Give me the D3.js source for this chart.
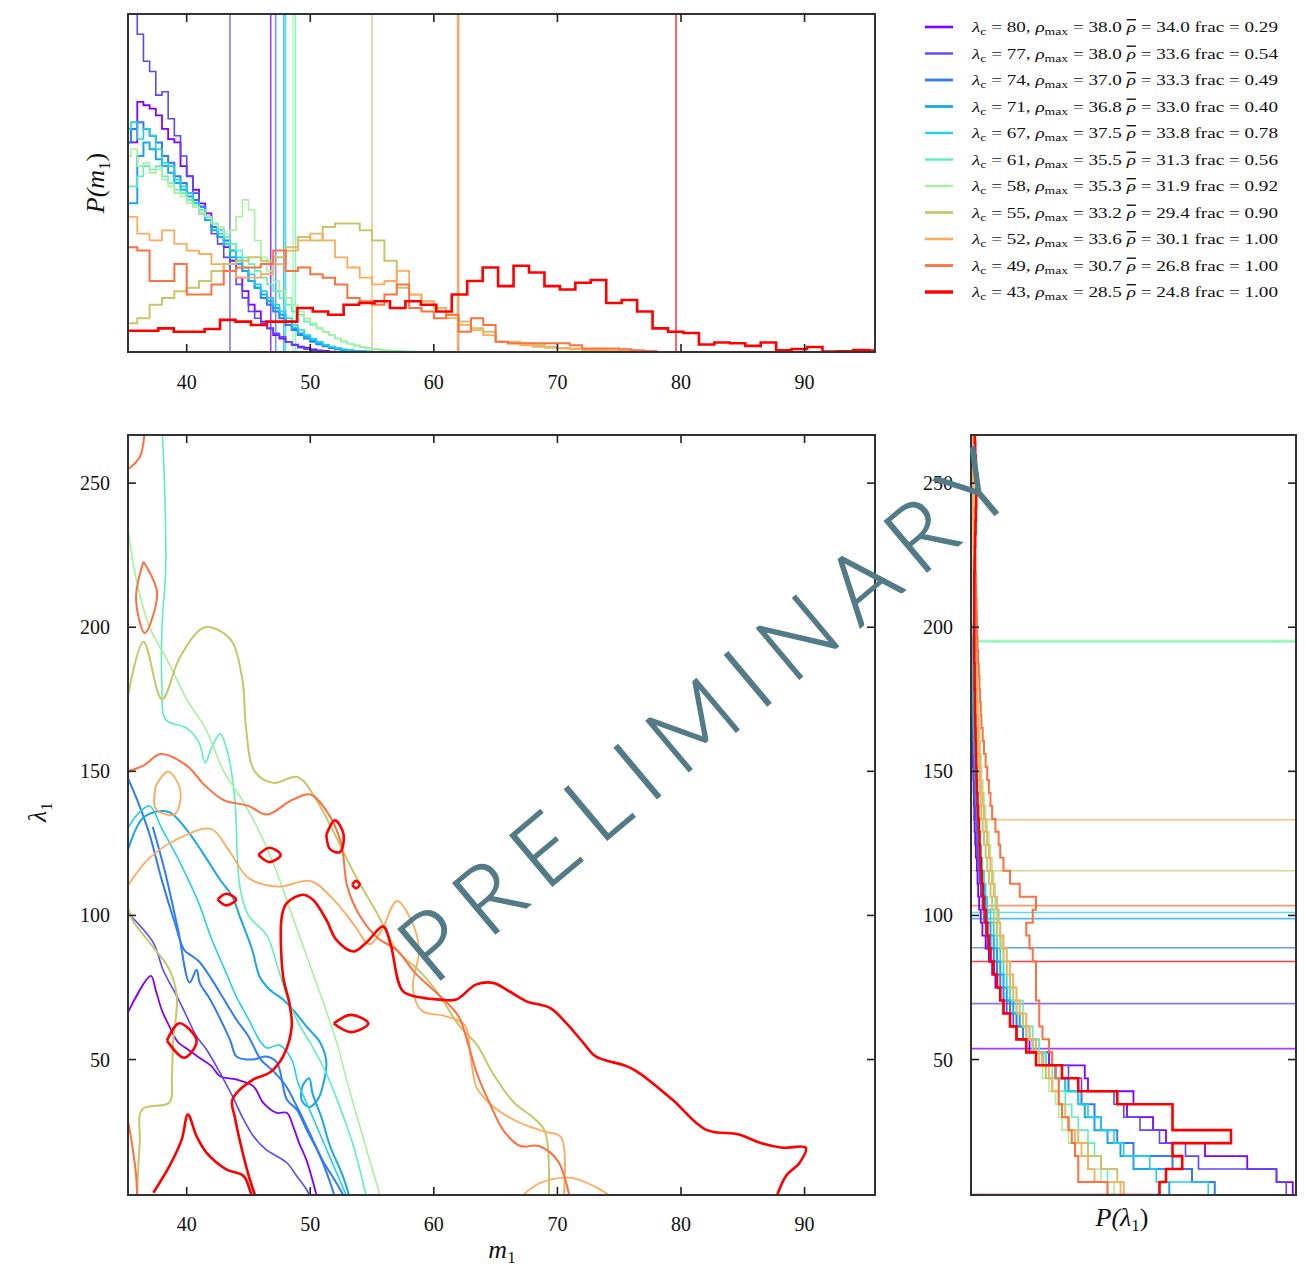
<!DOCTYPE html>
<html>
<head>
<meta charset="utf-8">
<script src="https://cdnjs.cloudflare.com/ajax/libs/d3/7.8.5/d3.min.js"></script>
<style>
body { margin: 0; background: #fff; }
text { font-family: "Liberation Serif", "DejaVu Serif", serif; fill: #111; }
</style>
</head>
<body>
<svg id="chart" width="1306" height="1273"></svg>
<script>
/* Legend values, one entry per run */
var lambdaC  = [80, 77, 74, 71, 67, 61, 58, 55, 52, 49, 43];
var rhoMax   = ["38.0", "38.0", "37.0", "36.8", "37.5", "35.5", "35.3", "33.2", "33.6", "30.7", "28.5"];
var rhoBar   = ["34.0", "33.6", "33.3", "33.0", "33.8", "31.3", "31.9", "29.4", "30.1", "26.8", "24.8"];
var fracVals = ["0.29", "0.54", "0.49", "0.40", "0.78", "0.56", "0.92", "0.90", "1.00", "1.00", "1.00"];

/* injected (true) values marked by the straight lines */
var mTrue   = [46.8, 43.5, 47.2, 47.85, 48.0, 48.8, 48.6, 61.9, 55.0, 62.0, 79.6];
var lamTrue = [53.8, 69.4, 88.8, 98.9, 101.0, 195.0, 195.5, 115.5, 133.2, 103.4, 84.0];

/* Ticks */
var mTicks   = [40, 50, 60, 70, 80, 90];
var lamTicks = [50, 100, 150, 200, 250];

/* m1 histograms: first bin edge, bin width, heights (relative density) */
var m1Start = [35, 35, 35, 35, 35, 35, 35, 35, 35, 35, 35.2];
var m1Width = [0.5, 0.5, 0.5, 0.5, 0.5, 0.5, 0.5, 1, 1, 1, 1.25];
var m1Hist_80 = [62, 62, 74, 73, 72, 70, 66, 63, 62, 55, 52, 48, 44, 41, 37, 34, 31, 27, 22, 18, 14, 12, 9, 7, 5, 4, 3, 2.2, 1.6, 1.2, 0.8, 0.5, 0.3, 0.1, 0];
var m1Hist_77 = [104, 100, 94, 86, 83, 76, 77, 69, 64, 58, 52, 47, 43, 39, 35, 32, 28, 24, 20, 16, 12, 10, 8.5, 7, 5.5, 4.5, 3, 2, 1.3, 0.8, 0.4, 0.2, 0];
var m1Hist_74 = [62, 66, 68, 66, 64, 62, 58, 56, 52, 50, 47, 45, 43, 40, 37, 36, 33, 30, 27, 24, 21, 19, 16, 14, 12, 10, 8, 6.5, 5, 4, 3, 2.3, 1.7, 1.2, 0.8, 0.5, 0.3, 0.2, 0.1, 0];
var m1Hist_71 = [44, 44, 58, 62, 60, 57, 55, 53, 50, 48, 46, 44, 41, 39, 36, 34, 32, 28, 26, 24, 21, 19, 17, 15, 13, 11, 9, 7, 5.5, 4.5, 3.5, 2.6, 2, 1.5, 1, 0.7, 0.5, 0.3, 0.2, 0.1, 0];
var m1Hist_67 = [66, 68, 63, 66, 64, 60, 56, 55, 51, 49, 47, 44, 42, 40, 38, 35, 32, 30, 28, 25, 23, 20, 18, 16, 14, 12, 10, 8, 6.5, 5, 4, 3, 2.2, 1.6, 1.2, 0.8, 0.5, 0.3, 0.2, 0.1, 0];
var m1Hist_61 = [49, 49, 52, 55, 54, 55, 52, 50, 48, 47, 45, 43, 42, 40, 38, 36, 34, 32, 30, 28, 26, 24, 22, 20, 18, 16, 14, 12, 11, 9, 8, 7, 6, 5, 4, 3.2, 2.5, 2, 1.5, 1.2, 0.9, 0.7, 0.5, 0.4, 0.3, 0.2, 0.1, 0];
var m1Hist_58 = [58, 60, 55, 56, 53, 54, 51, 49, 47, 46, 44, 43, 41, 40, 38, 37, 35, 36, 40, 45, 42, 33, 28, 24, 21, 18, 16, 14, 12, 10, 8.5, 7, 6, 5, 4, 3, 2.4, 1.8, 1.4, 1, 0.8, 0.6, 0.4, 0.3, 0.2, 0.1, 0];
var m1Hist_55 = [8.5, 10, 14, 16, 18, 19, 21, 24, 26, 27, 28, 27, 28, 31, 34, 33, 37, 38, 38, 36, 33, 27, 19, 17, 15, 13, 11, 9, 7, 6, 3, 3, 2.5, 2, 1.5, 1.2, 1, 0.5, 0.3, 0];
var m1Hist_52 = [40, 35, 33, 36, 32, 30, 29, 26, 24, 22, 22, 23, 26, 30, 33, 35, 33, 28, 25, 22, 20, 21, 24, 17, 15, 13, 10, 8, 6.5, 5, 3, 2.5, 2, 1.5, 1.2, 1, 0.8, 0.8, 0.6, 0.5, 0.4, 0.3, 0.2, 0];
var m1Hist_49 = [31, 30, 21, 21, 26, 17, 17, 20, 24, 25, 25, 26, 30, 24, 25, 23, 22, 20, 16, 15, 14, 17, 20, 13, 12, 10, 11, 6, 10, 8, 3, 2.6, 2.6, 2.6, 2.6, 2.6, 2, 1, 1, 1, 0.8, 0.5, 0.3, 0];
var m1Hist_43 = [6.3, 6.3, 7, 6, 6, 6.8, 9.5, 9, 8, 9, 9, 13, 12, 11, 14, 14.5, 15, 13, 15, 14, 12, 17, 21, 25, 19.5, 25.5, 23.5, 19.5, 18.5, 20.5, 21.3, 14.5, 15.4, 12, 7, 6, 5.6, 2.2, 2.8, 2.6, 1.8, 2.8, 0.5, 0.9, 1.5, 0.1, 0.2, 0.6, 0.4];

/* lambda1 histograms: bins of 4.5 starting at 3, relative density */
var lamStart = 3, lamWidth = 4.5;
var lamHist_80 = [99, 94, 85, 72, 60, 56, 48, 50, 36, 35, 24, 18, 14, 12, 10, 9, 7.5, 6.5, 5.5, 4.5, 3.5, 3, 2.5, 2.2, 2, 1.8, 1.5, 1.3, 1.1, 1, 0.9, 0.8, 0.7, 0.6, 0.5, 0.4, 0.3, 0.2, 0.1];
var lamHist_77 = [97, 94, 70, 66, 58, 52, 47, 44, 34, 30, 25, 20, 16, 13, 11, 9, 8, 7, 6, 5, 4.5, 4, 3.5, 3, 2.6, 2.2, 2, 1.8, 1.6, 1.4, 1.2, 1, 0.9, 0.8, 0.7, 0.6, 0.5, 0.4, 0.3, 0.2, 0.1];
var lamHist_74 = [75, 68, 62, 50, 45, 40, 38, 34, 30, 26, 22, 19, 16, 14, 12, 10, 9, 8, 7, 6, 5, 4.5, 4, 3.5, 3, 2.8, 2.5, 2.2, 2, 1.8, 1.6, 1.4, 1.3, 1.2, 1, 0.9, 0.8, 0.7, 0.6, 0.5, 0.4, 0.3, 0.2, 0.1];
var lamHist_71 = [61, 60, 50, 46, 42, 38, 35, 33, 29, 26, 23, 20, 17, 15, 13, 11, 10, 9, 8, 7, 6, 5, 4.5, 4, 3.5, 3, 2.7, 2.4, 2.1, 1.9, 1.7, 1.5, 1.3, 1.2, 1, 0.9, 0.8, 0.7, 0.6, 0.5, 0.4, 0.3, 0.2];
var lamHist_67 = [73, 57, 55, 47, 44, 40, 36, 33, 29, 26, 23, 21, 18, 16, 14, 12, 11, 10, 9, 8, 7, 6, 5, 4.5, 4, 3.5, 3, 2.7, 2.4, 2.1, 1.9, 1.7, 1.5, 1.3, 1.1, 1, 0.9, 0.8, 0.7, 0.6, 0.5, 0.4, 0.3, 0.2];
var lamHist_61 = [42, 42, 40, 38, 36, 33, 31, 29, 27, 25, 23, 21, 19, 17, 16, 14, 13, 12, 11, 10, 9, 8, 7.5, 7, 6.5, 6, 5.5, 5, 4.5, 4, 3.8, 3.5, 3.2, 3, 2.8, 2.6, 2.4, 2.2, 2, 1.9, 1.8, 1.7, 1.6, 1.5, 1.4, 1.3, 1.2, 1.1, 1, 1, 0.9, 0.9, 0.8, 0.8, 0.7, 0.7, 0.6, 0.6, 0.5];
var lamHist_58 = [44, 40, 36, 32, 30, 28, 27, 26, 24, 22, 20, 19, 17, 16, 15, 13, 12, 11, 10, 9.5, 9, 8.5, 8, 7.5, 7, 6.5, 6, 5.5, 5, 4.5, 4, 3.6, 3.2, 3, 2.8, 2.6, 2.4, 2.2, 2, 1.9, 1.8, 1.7, 1.6, 1.5, 1.4, 1.3, 1.2, 1.1, 1, 1, 0.9, 0.9, 0.8, 0.8, 0.7, 0.7, 0.6, 0.6, 0.5];
var lamHist_55 = [47, 45, 40, 36, 33, 30, 29, 27, 25, 23, 21, 19, 17, 16, 14, 13, 12, 11, 10, 9, 8, 7, 6.5, 6, 5.5, 5, 4.5, 4, 3.6, 3.2, 3, 2.8, 2.6, 2.4, 2.2, 2, 1.8, 1.7, 1.6, 1.5, 1.4, 1.3, 1.2, 1.1, 1, 1, 0.9, 0.9, 0.8, 0.8, 0.7, 0.7, 0.6, 0.6, 0.5, 0.5, 0.4, 0.4, 0.3];
var lamHist_52 = [46, 38, 36, 34, 32, 30, 28, 27, 25, 24, 22, 20, 18, 17, 15, 14, 13, 12, 11, 10, 9, 8.5, 8, 7, 6.5, 6, 5.5, 5, 4.5, 4, 3.6, 3.2, 3, 2.8, 2.6, 2.4, 2.2, 2, 1.9, 1.8, 1.7, 1.6, 1.5, 1.4, 1.3, 1.2, 1.1, 1, 1, 0.9, 0.9, 0.8, 0.8, 0.7, 0.7, 0.6, 0.6, 0.5, 0.5];
var lamHist_49 = [42, 33, 33, 32, 31, 30, 28, 27, 27, 26, 25, 24, 22, 21, 21, 20, 20, 20, 19, 18, 17, 19, 20, 15, 12, 10, 9, 8.5, 7.5, 6.5, 6, 5.5, 5, 4.5, 4, 3.6, 3.2, 3, 2.8, 2.6, 2.4, 2.2, 2, 1.9, 1.8, 1.7, 1.6, 1.5, 1.4, 1.3, 1.2, 1.3, 1.4, 1.5, 1.5, 1.4, 1.3, 1.2, 1.1];
var lamHist_43 = [58, 60, 65, 62, 80, 62, 62, 45, 33, 28, 20, 17, 14, 12, 10, 9, 8, 7, 6, 5.5, 5, 4.5, 4, 3.6, 3.3, 3, 2.8, 2.6, 2.4, 2.2, 2, 1.8, 1.7, 1.6, 1.5, 1.4, 1.3, 1.2, 1.2, 1.1, 1.1, 1, 1, 1, 1, 1, 1, 1, 1.1, 1.2, 1.3, 1.4, 1.5, 1.6, 1.8, 1.6, 1.5, 1.3, 1.2];

/* 2D credible contours, [m1, lambda1] */
var contour_80 = [
  [[35.2,66],[37.1,79],[37.5,74],[38.0,67],[38.6,61.5],[39.3,56],[40.1,53.5],[40.9,51],[42.0,47.7],[42.7,44.2],[44.0,43.1],[45.4,40.7],[46.2,35],[47.3,31.5],[48.1,31.5],[48.6,27],[49.1,21],[49.7,15],[50.5,3]]
];
var contour_77 = [
  [[35.2,101],[37.3,90.5],[38.1,81],[39.2,72],[40.0,65],[40.8,58],[41.6,53.5],[42.7,45.4],[43.7,37.3],[44.6,29.2],[45.4,23.4],[46.4,18.8],[48.1,14.2],[48.9,9.6],[49.7,4.9],[50.0,2]]
];
var contour_74 = [
  [[35.2,148],[36,140],[37,128],[38,112],[39,98],[39.8,88],[40.4,86],[41,84],[42,78],[43,71],[44,64],[45,58],[46,50],[47,46],[48,41],[49,33],[50,24],[51,15],[52,8],[52.8,2]],
  [[37.25,130.8],[38.2,115.9],[39.3,95.1],[40.24,76.7],[40.8,81.2],[41.05,76.7],[41.9,70.8],[43.5,56.9],[44.05,51],[45.3,50],[46.5,51],[47.3,49],[48.1,36.1],[48.9,32.7],[49.7,25.7],[50.8,16.4],[51.8,4.9],[52,2]]
];
var contour_71 = [
  [[35.2,122],[36.5,134],[38.5,136],[40,129.7],[41.3,121.7],[42.7,112.4],[43.7,106.5],[44.3,99.6],[45.3,88.1],[45.9,78.8],[46.7,74.3],[47.8,70.8],[48.6,67.3],[49.7,61.4],[50.8,55.9],[51.3,49],[51.0,40.6],[50.6,36.1],[49.9,33.5],[49.3,36],[49.4,41],[49.9,43.5],[50.2,38],[50.9,30],[51.6,20],[52.6,10],[53.2,2]]
];
var contour_67 = [
  [[35.2,130],[36,135],[37,138],[38,130],[39.5,118],[41,104],[42,92],[43,82],[44,72],[45,64],[46,56],[46.5,54],[47.5,55],[48.5,50],[49,42],[50,32],[51,22],[52,12],[53,2]]
];
var contour_61 = [
  [[38.0,270],[38.2,250],[38.3,220],[38.0,200],[38.0,180],[38.3,168],[40,165],[41,160],[41.5,153],[42,158],[42.7,163],[43.4,155],[43.9,140],[44.3,110],[45,100],[46.5,93],[47.3,83],[48.1,72],[49,63],[50.1,55],[51.1,47],[52,38],[52.7,30],[53.5,20],[54.5,3]]
];
var contour_58 = [
  [[35.2,235],[36,215],[37,200],[38.5,188],[40,175],[41.5,165],[43,150],[44.5,140],[46,128],[47.2,116],[48.2,104],[49.2,92],[50.2,80],[51.2,68],[52.2,55],[53,42],[53.8,30],[54.6,18],[55.3,8],[55.7,2]]
];
var contour_55 = [
  [[35.2,175],[36.5,195],[38,175],[39.5,190],[41.5,200],[43.5,196],[44.5,182],[44.8,165],[45.5,150],[47,146],[49,148],[50.5,140],[52,128],[53.5,115],[55.5,100],[57,88],[59,80],[60.5,72],[62,62],[63.5,55],[64.8,45],[66.5,35],[68,30],[69,25],[69.3,2]],
  [[35.2,104],[35.6,98.5],[37.0,90.6],[38.6,81.2],[39.2,71.8],[38.9,55.9],[38.8,44.1],[38.6,35.1],[36.4,32.7],[36.2,21.2],[36.0,4.9],[36,2]]
];
var contour_52 = [
  [[37.5,145],[38.5,150],[39.5,143],[39,135],[37.5,137],[37.5,145]],
  [[35.2,110],[37,120],[40,128],[42,130],[43.5,122],[45,113],[47.5,110],[50,112],[52,105],[53.5,97],[54.8,90],[55.8,95],[57,105],[58.2,98],[58.8,88],[58.3,75],[59,67],[61,65],[62.5,62],[63,50],[63.5,40],[65,33],[67,28],[69,25],[70.3,23],[70.5,2]],
  [[67,2],[68.5,7],[71,9],[73,6],[74.5,2]]
];
var contour_49 = [
  [[36.6,268],[36.2,259],[35.3,255]],
  [[36.5,222.7],[37.6,212],[36.6,198],[35.9,210],[36.5,222.7]],
  [[35.2,150],[36.5,152],[37.9,156],[40,152],[41.5,145],[43,140],[45,138],[46.5,135],[48.5,140],[50,142],[51.5,135],[52.5,125],[53,110],[54,100],[55.5,92],[57,88],[58.5,80],[60.5,72],[62,65],[62.8,55],[63.5,45],[64.5,35],[65.7,25],[67,20],[68.5,20],[70,15],[71,2]],
  [[35.2,30],[35.6,20],[35.9,10],[36.0,2]]
];
var contour_43 = [
  [[37.3,3.8],[38.6,13],[39.6,22.3],[40.1,30.9],[40.8,23.4],[41.6,17.7],[43.2,11.9],[44.6,9.6],[45.1,4.9],[45.3,2]],
  [[45.6,2],[45.0,10],[44.4,20],[43.9,30],[43.7,36.1],[45.4,43.1],[46.7,45.4],[47.8,51.1],[48.5,61.5],[48.3,69.7],[47.8,78.9],[47.7,99.7],[48.1,104.3],[49.4,107.2],[50.2,105.5],[51.3,98.5],[52.1,91.6],[53.5,87.5],[54.5,90.4],[55.9,96.2],[56.5,90],[57.5,73.7],[59,71.5],[60.5,70.8],[61.8,70.8],[63.4,76],[64.8,76.6],[66.1,73.7],[67.5,70.2],[69.4,67.9],[70.7,62.7],[72.1,55.8],[73.1,51.1],[75.6,47.7],[76.6,45.4],[79.3,36.1],[82.0,25.7],[84.7,24],[86.4,21.1],[88.2,19.4],[90.1,19.4],[89.6,14.2],[88.5,9.6],[87.7,2]],
  [[51.3,128],[52.0,133],[52.7,128],[52.4,122],[51.6,123],[51.3,128]],
  [[45.8,121],[46.7,123.5],[47.6,121],[46.7,118.5],[45.8,121]],
  [[42.5,105.5],[43.2,107.5],[44.0,105.5],[43.2,103.5],[42.5,105.5]],
  [[53.4,110.7],[53.7,112],[54.0,110.7],[53.7,109.4],[53.4,110.7]],
  [[51.9,62.5],[53.3,65.5],[54.7,62.5],[53.3,59.5],[51.9,62.5]],
  [[38.4,56.6],[39.4,62.6],[40.8,56.6],[39.8,50.6],[38.4,56.6]]
];

var seriesColors = ["#8000ff", "#5a48fc", "#2f7cf6", "#1aa6ec", "#22d2e2", "#5cf0bc", "#a6f29c", "#c8c66a", "#ffaa5c", "#ff7040", "#ff0000"];
var seriesWidths = [1.8, 1.6, 2, 2, 1.6, 1.6, 1.6, 2, 1.8, 2, 2.6];

var m1Hists  = [m1Hist_80, m1Hist_77, m1Hist_74, m1Hist_71, m1Hist_67, m1Hist_61, m1Hist_58, m1Hist_55, m1Hist_52, m1Hist_49, m1Hist_43];
var lamHists = [lamHist_80, lamHist_77, lamHist_74, lamHist_71, lamHist_67, lamHist_61, lamHist_58, lamHist_55, lamHist_52, lamHist_49, lamHist_43];
var contours = [contour_80, contour_77, contour_74, contour_71, contour_67, contour_61, contour_58, contour_55, contour_52, contour_49, contour_43];

/* Layout */
var MAIN = {left: 128, right: 875, top: 435, bottom: 1195},
    TOP  = {top: 14, bottom: 352},
    SIDE = {left: 971, right: 1296},
    TICK = 8;

var svg = d3.select("#chart");

var xM   = d3.scaleLinear().domain([35.25, 95.7]).range([MAIN.left, MAIN.right]),
    yLam = d3.scaleLinear().domain([3, 266.7]).range([MAIN.bottom, MAIN.top]),
    yTop = d3.scaleLinear().domain([0, 100]).range([TOP.bottom, TOP.top]),
    xSide = d3.scaleLinear().domain([0, 100]).range([SIDE.left, SIDE.right]);

var defs = svg.append("defs");
[["clipTop", MAIN.left, TOP.top, MAIN.right - MAIN.left, TOP.bottom - TOP.top],
 ["clipMain", MAIN.left, MAIN.top, MAIN.right - MAIN.left, MAIN.bottom - MAIN.top],
 ["clipSide", SIDE.left, MAIN.top, SIDE.right - SIDE.left, MAIN.bottom - MAIN.top]].forEach(function(c) {
	defs.append("clipPath").attr("id", c[0])
		.append("rect").attr("x", c[1]).attr("y", c[2]).attr("width", c[3]).attr("height", c[4]);
});

/* ---- top panel: P(m1) ---- */
var gTop = svg.append("g").attr("clip-path", "url(#clipTop)");

gTop.selectAll("line.truth")
	.data(mTrue)
	.enter().append("line")
	.attr("x1", function(d) { return xM(d); })
	.attr("x2", function(d) { return xM(d); })
	.attr("y1", TOP.top).attr("y2", TOP.bottom)
	.attr("stroke", function(d, i) { return seriesColors[i]; })
	.attr("stroke-opacity", 0.75)
	.attr("stroke-width", 1.6);

var topLine = d3.line().x(function(d) { return xM(d[0]); }).y(function(d) { return yTop(d[1]); });

gTop.selectAll("path.hist")
	.data(m1Hists)
	.enter().append("path")
	.attr("fill", "none")
	.attr("stroke", function(d, i) { return seriesColors[i]; })
	.attr("stroke-width", function(d, i) { return seriesWidths[i]; })
	.attr("d", function(h, i) {
		var s = m1Start[i], w = m1Width[i], pts = [[s, 0]];
		h.forEach(function(v, k) { pts.push([s + k * w, v], [s + (k + 1) * w, v]); });
		pts.push([s + h.length * w, 0]);
		return topLine(pts);
	});

/* ---- side panel: P(lambda1) ---- */
var gSide = svg.append("g").attr("clip-path", "url(#clipSide)");

gSide.selectAll("line.truth")
	.data(lamTrue)
	.enter().append("line")
	.attr("x1", SIDE.left).attr("x2", SIDE.right)
	.attr("y1", function(d) { return yLam(d); })
	.attr("y2", function(d) { return yLam(d); })
	.attr("stroke", function(d, i) { return seriesColors[i]; })
	.attr("stroke-opacity", 0.75)
	.attr("stroke-width", 1.6);

var sideLine = d3.line().x(function(d) { return xSide(d[0]); }).y(function(d) { return yLam(d[1]); });

gSide.selectAll("path.hist")
	.data(lamHists)
	.enter().append("path")
	.attr("fill", "none")
	.attr("stroke", function(d, i) { return seriesColors[i]; })
	.attr("stroke-width", function(d, i) { return seriesWidths[i]; })
	.attr("d", function(h) {
		var pts = [[0, lamStart]];
		h.forEach(function(v, k) { pts.push([v, lamStart + k * lamWidth], [v, lamStart + (k + 1) * lamWidth]); });
		pts.push([0, lamStart + h.length * lamWidth]);
		return sideLine(pts);
	});

/* ---- main panel: contours ---- */
var gMain = svg.append("g").attr("clip-path", "url(#clipMain)");
var contourLine = d3.line().x(function(d) { return xM(d[0]); }).y(function(d) { return yLam(d[1]); })
	.curve(d3.curveCatmullRom.alpha(0.5));

contours.forEach(function(set, i) {
	gMain.append("g").selectAll("path")
		.data(set)
		.enter().append("path")
		.attr("fill", "none")
		.attr("stroke", seriesColors[i])
		.attr("stroke-width", seriesWidths[i])
		.attr("stroke-linejoin", "round")
		.attr("d", contourLine);
});

/* ---- frames, ticks, labels ---- */
function frame(x0, y0, x1, y1) {
	svg.append("rect").attr("x", x0).attr("y", y0).attr("width", x1 - x0).attr("height", y1 - y0)
		.attr("fill", "none").attr("stroke", "#333").attr("stroke-width", 2);
}
frame(MAIN.left, TOP.top, MAIN.right, TOP.bottom);
frame(MAIN.left, MAIN.top, MAIN.right, MAIN.bottom);
frame(SIDE.left, MAIN.top, SIDE.right, MAIN.bottom);

var ticks = svg.append("g").attr("stroke", "#222").attr("stroke-width", 1.6);
function vTicks(vals, yA, yB) {
	vals.forEach(function(v) {
		ticks.append("line").attr("x1", xM(v)).attr("x2", xM(v)).attr("y1", yA).attr("y2", yA + TICK);
		ticks.append("line").attr("x1", xM(v)).attr("x2", xM(v)).attr("y1", yB).attr("y2", yB - TICK);
	});
}
function hTicks(vals, xA, xB) {
	vals.forEach(function(v) {
		ticks.append("line").attr("y1", yLam(v)).attr("y2", yLam(v)).attr("x1", xA).attr("x2", xA + TICK);
		ticks.append("line").attr("y1", yLam(v)).attr("y2", yLam(v)).attr("x1", xB).attr("x2", xB - TICK);
	});
}
vTicks(mTicks, TOP.top, TOP.bottom);
vTicks(mTicks, MAIN.top, MAIN.bottom);
hTicks(lamTicks, MAIN.left, MAIN.right);
hTicks(lamTicks, SIDE.left, SIDE.right);

function tickLabels(vals, xf, yf, anchor) {
	svg.append("g").selectAll("text")
		.data(vals)
		.enter().append("text")
		.attr("x", xf).attr("y", yf)
		.attr("text-anchor", anchor)
		.style("font-size", "20px")
		.text(String);
}
tickLabels(mTicks, function(d) { return xM(d); }, 389, "middle");
tickLabels(mTicks, function(d) { return xM(d); }, 1231, "middle");
tickLabels(lamTicks, 110, function(d) { return yLam(d) + 7; }, "end");
tickLabels(lamTicks, 953, function(d) { return yLam(d) + 7; }, "end");

/* axis titles */
svg.append("text").attr("transform", "translate(104,183) rotate(-90)").attr("text-anchor", "middle")
	.style("font-size", "26px").style("font-style", "italic")
	.call(function(t) {
		t.append("tspan").text("P(m");
		t.append("tspan").attr("dy", 6).style("font-size", "17px").style("font-style", "normal").text("1");
		t.append("tspan").attr("dy", -6).style("font-style", "normal").text(")");
	});
svg.append("text").attr("transform", "translate(46,812) rotate(-90)").attr("text-anchor", "middle")
	.style("font-size", "26px").style("font-style", "italic")
	.call(function(t) {
		t.append("tspan").text("λ");
		t.append("tspan").attr("dy", 6).style("font-size", "17px").style("font-style", "normal").text("1");
	});
svg.append("text").attr("x", 502).attr("y", 1258).attr("text-anchor", "middle")
	.style("font-size", "26px").style("font-style", "italic")
	.call(function(t) {
		t.append("tspan").text("m");
		t.append("tspan").attr("dy", 5).style("font-size", "17px").style("font-style", "normal").text("1");
	});
svg.append("text").attr("x", 1122).attr("y", 1226).attr("text-anchor", "middle")
	.style("font-size", "26px").style("font-style", "italic")
	.call(function(t) {
		t.append("tspan").text("P(λ");
		t.append("tspan").attr("dy", 5).style("font-size", "17px").style("font-style", "normal").text("1");
		t.append("tspan").attr("dy", -5).style("font-style", "normal").text(")");
	});

/* ---- legend ---- */
var legend = svg.append("g").attr("id", "legend");
var LEG = {x0: 925, x1: 953, tx: 972, y0: 27, dy: 26.5};
lambdaC.forEach(function(l, i) {
	var y = LEG.y0 + i * LEG.dy;
	legend.append("line").attr("x1", LEG.x0).attr("x2", LEG.x1).attr("y1", y).attr("y2", y)
		.attr("stroke", seriesColors[i]).attr("stroke-width", seriesWidths[i] + 0.8);
	var t = legend.append("text").attr("x", LEG.tx).attr("y", y + 5)
		.attr("textLength", 306).attr("lengthAdjust", "spacingAndGlyphs")
		.style("font-size", "14px");
	t.append("tspan").style("font-style", "italic").text("λ");
	t.append("tspan").attr("dy", 3).style("font-size", "10px").text("c");
	t.append("tspan").attr("dy", -3).text(" = " + l + ", ");
	t.append("tspan").style("font-style", "italic").text("ρ");
	t.append("tspan").attr("dy", 3).style("font-size", "10px").text("max");
	t.append("tspan").attr("dy", -3).text(" = " + rhoMax[i] + " ");
	t.append("tspan").style("font-style", "italic").style("text-decoration", "overline").text("ρ");
	t.append("tspan").text(" = " + rhoBar[i] + " frac = " + fracVals[i]);
});

/* ---- watermark ---- */
svg.append("text")
	.attr("transform", "rotate(-40)")
	.attr("x", -302).attr("y", 1034)
	.attr("textLength", 763).attr("lengthAdjust", "spacing")
	.style("font-family", "Lato, 'Open Sans', sans-serif")
	.style("font-weight", 300)
	.style("font-size", "94px")
	.style("fill", "#537a87")
	.style("stroke", "#537a87")
	.style("stroke-width", 1.2)
	.text("PRELIMINARY");
</script>
</body>
</html>
